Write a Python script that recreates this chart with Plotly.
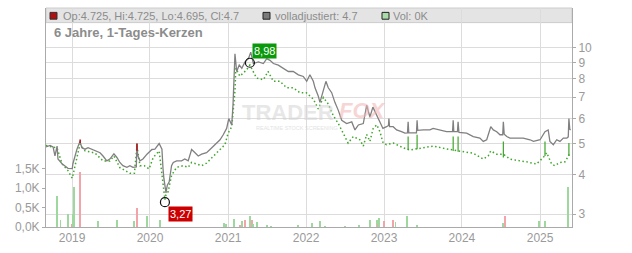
import math
import plotly.graph_objects as go

# ---------------- data ----------------
adj_dates = ["2018-09-01","2018-09-20","2018-10-04","2018-10-13","2018-10-23","2018-10-27","2018-11-15","2018-11-29",
 "2018-12-13","2019-01-02","2019-01-05","2019-01-24","2019-02-07","2019-02-16","2019-03-03","2019-03-17","2019-04-04",
 "2019-04-18","2019-05-12","2019-05-26","2019-06-13","2019-06-27","2019-07-16","2019-07-30","2019-08-13","2019-08-27",
 "2019-09-15","2019-09-29","2019-10-13","2019-10-29","2019-11-01","2019-11-04","2019-11-15","2019-11-29","2019-12-18",
 "2020-01-10","2020-01-24","2020-02-13","2020-02-26","2020-03-02","2020-03-06","2020-03-16","2020-03-22","2020-03-31",
 "2020-04-11","2020-04-19","2020-05-05","2020-05-28","2020-06-12","2020-06-28","2020-07-14","2020-07-30","2020-08-14",
 "2020-08-30","2020-09-22","2020-10-08","2020-10-23","2020-11-08","2020-11-24","2020-12-09","2020-12-25","2021-01-04",
 "2021-01-18","2021-01-24","2021-02-02","2021-02-10","2021-02-22","2021-03-06","2021-03-21","2021-04-06","2021-04-17",
 "2021-04-29","2021-05-23","2021-06-15","2021-07-01","2021-07-16","2021-08-01","2021-08-24","2021-09-17","2021-10-10",
 "2021-11-02","2021-11-26","2021-12-19","2022-01-04","2022-01-19","2022-02-04","2022-02-12","2022-02-27","2022-03-07",
 "2022-03-23","2022-04-04","2022-04-15","2022-05-01","2022-05-16","2022-06-01","2022-06-17","2022-07-10","2022-08-03",
 "2022-08-18","2022-09-03","2022-09-26","2022-10-12","2022-10-27","2022-11-10","2022-11-28","2022-12-13","2022-12-27",
 "2023-01-13","2023-01-22","2023-01-24","2023-01-27","2023-02-13","2023-03-01","2023-03-24","2023-04-09","2023-04-21",
 "2023-04-24","2023-04-27","2023-05-18","2023-06-02","2023-06-05","2023-06-08","2023-07-04","2023-08-04","2023-08-19",
 "2023-09-20","2023-10-21","2023-11-18","2023-11-21","2023-11-24","2023-12-11","2023-12-14","2023-12-18","2024-01-23",
 "2024-02-23","2024-03-25","2024-04-10","2024-04-26","2024-05-15","2024-05-27","2024-06-12","2024-06-27","2024-07-10",
 "2024-07-13","2024-07-17","2024-07-29","2024-08-13","2024-09-13","2024-10-14","2024-11-15","2024-12-01","2025-01-01",
 "2025-01-24","2025-02-08","2025-02-16","2025-03-04","2025-03-20","2025-04-04","2025-04-20","2025-05-06","2025-05-13",
 "2025-05-16","2025-05-20","2025-05-24"]
adj_price = [4.88,4.93,4.88,4.57,4.91,4.47,4.32,4.26,
 4.18,4.17,4.32,4.80,5.08,4.85,4.80,4.85,4.80,
 4.74,4.68,4.57,4.41,4.47,4.64,4.52,4.36,4.26,
 4.21,4.26,4.21,4.22,5.00,4.60,4.41,4.47,4.63,
 4.79,4.80,5.00,4.80,4.17,3.89,3.50,3.70,3.79,
 4.26,4.36,4.41,4.41,4.47,4.41,4.79,4.68,4.57,
 4.63,4.68,4.79,4.91,5.02,5.14,5.33,5.58,5.99,
 5.72,6.66,9.59,8.43,8.83,8.63,9.04,9.25,9.70,
 8.93,9.04,8.93,9.25,9.14,8.93,8.83,8.63,8.43,
 8.43,8.23,8.13,7.85,8.23,7.85,7.49,7.06,6.74,
 7.32,7.85,7.49,7.23,6.74,6.36,5.92,5.78,5.85,
 5.52,5.72,5.78,6.60,6.06,6.51,6.15,5.85,5.58,
 5.65,5.70,5.99,5.65,5.65,5.52,5.45,5.39,5.40,
 5.85,5.40,5.39,5.40,5.92,5.50,5.52,5.52,5.58,
 5.52,5.45,5.45,5.92,5.45,5.45,5.85,5.42,5.39,
 5.26,5.20,5.08,5.14,5.65,5.52,5.45,5.33,5.33,
 5.85,5.35,5.26,5.20,5.20,5.20,5.14,5.08,5.14,
 5.45,5.52,5.08,4.96,5.14,5.08,5.20,5.20,5.25,
 5.99,5.55,5.52]

candle_dates = ["2018-09-01","2018-10-04","2018-10-23","2018-11-15","2018-12-13","2019-01-02","2019-01-14","2019-02-07",
 "2019-03-03","2019-04-18","2019-05-26","2019-06-27","2019-07-16","2019-08-13","2019-09-15","2019-09-29","2019-10-20",
 "2019-11-01","2019-11-15","2019-12-05","2019-12-28","2020-01-16","2020-02-13","2020-03-03","2020-03-11","2020-03-16",
 "2020-03-26","2020-04-11","2020-05-05","2020-06-05","2020-06-28","2020-07-14","2020-08-07","2020-08-30","2020-09-22",
 "2020-10-23","2020-11-24","2020-12-17","2021-01-01","2021-01-18","2021-02-02","2021-02-06","2021-02-25","2021-03-28",
 "2021-04-13","2021-05-14","2021-06-15","2021-07-07","2021-08-01","2021-09-01","2021-10-02","2021-11-02","2021-12-03",
 "2022-01-02","2022-02-04","2022-02-27","2022-03-23","2022-04-15","2022-05-08","2022-06-01","2022-06-24","2022-07-17",
 "2022-08-10","2022-09-10","2022-09-26","2022-10-12","2022-10-27","2022-11-11","2022-11-28","2022-12-13","2022-12-28",
 "2023-01-13","2023-02-13","2023-04-01","2023-05-02","2023-06-02","2023-07-19","2023-08-19","2023-10-21","2023-12-22",
 "2024-02-23","2024-04-10","2024-05-03","2024-05-15","2024-06-12","2024-07-13","2024-08-13","2024-09-29","2024-10-30",
 "2024-12-15","2025-01-16","2025-02-01","2025-02-24","2025-03-11","2025-04-04","2025-04-28","2025-05-13","2025-05-24"]
candle_close = [4.93,4.87,4.84,4.32,4.11,3.89,4.26,4.98,
 4.74,4.67,4.41,4.41,4.57,4.20,4.08,4.03,4.03,
 4.91,4.26,4.26,4.16,4.52,4.74,3.79,3.33,3.45,
 3.53,3.97,4.21,4.26,4.21,4.36,4.31,4.26,4.34,
 4.57,4.79,4.96,5.39,5.65,7.33,8.63,8.15,8.52,
 8.83,8.04,7.94,8.43,7.85,7.85,7.49,7.49,7.23,
 7.23,6.90,6.43,6.98,6.66,6.13,5.78,5.39,5.02,
 5.26,5.14,4.91,5.34,5.08,5.57,5.73,5.45,5.02,
 4.96,5.02,4.85,4.77,4.81,4.85,4.91,4.81,4.74,
 4.66,4.47,4.57,4.74,4.63,4.63,4.47,4.41,4.38,
 4.31,4.52,4.68,4.31,4.26,4.36,4.38,4.58,4.70]

wick_dates = ["2023-04-24","2023-06-05","2023-11-21","2023-12-14","2024-07-13","2025-01-24","2025-05-16"]
wick_high = [5.26,5.33,5.26,5.26,5.08,5.08,5.02]
wick_low = [4.77,4.80,4.74,4.71,4.52,4.57,4.57]

red_dates = ["2019-02-08","2019-11-01"]
red_high = [5.15,5.00]
red_low = [5.02,4.75]

vol_dates = ["2018-10-24","2018-11-08","2018-12-12","2018-12-30","2019-01-04","2019-01-11","2019-02-08","2019-05-04",
 "2019-07-31","2019-10-19","2019-11-02","2019-12-19","2020-02-18","2020-12-11","2020-12-22","2021-01-30","2021-02-27",
 "2021-03-06","2021-03-23","2021-04-15","2021-04-24","2021-04-29","2021-05-15","2021-07-04","2021-07-21","2021-11-23",
 "2022-01-27","2022-03-09","2022-04-01","2022-07-04","2022-09-07","2022-10-29","2022-11-30","2022-12-05","2022-12-10",
 "2023-01-02","2023-02-13","2023-02-24","2023-04-20","2023-06-06","2024-07-13","2024-07-17","2024-07-22","2024-12-28",
 "2025-01-25","2025-05-13"]
vol_values = [790,190,333,83,333,1017,1425,167,
 192,142,500,292,192,92,67,200,42,
 142,192,292,192,67,117,42,25,50,
 92,142,17,17,42,192,192,67,242,
 167,192,117,292,42,92,42,292,142,
 142,1017]
vol_dir = ["up","up","up","down","up","up","down","up",
 "up","up","down","up","up","up","up","up","down",
 "up","down","up","down","up","up","up","up","up",
 "up","up","up","up","up","up","up","down","up",
 "down","down","up","up","up","up","up","down","up",
 "up","up"]

high_date, high_value = "2021-04-13", 8.98
low_date, low_value = "2020-03-11", 3.27

year_ticks = ["2019-01-01","2020-01-01","2021-01-01","2022-01-01","2023-01-01","2024-01-01","2025-01-01"]
year_labels = ["2019","2020","2021","2022","2023","2024","2025"]
price_ticks = [3,4,5,6,7,8,9,10]
price_labels = ["3","4","5","6","7","8","9","10"]
vol_ticks = [0,500,1000,1500]
vol_labels = ["0,0K","0,5K","1,0K","1,5K"]

header_ohlc = "Op:4.725, Hi:4.725, Lo:4.695, Cl:4.7"
header_adj = "volladjustiert: 4.7"
header_vol = "Vol: 0K"
title_text = "6 Jahre, 1-Tages-Kerzen"

# ---------------- style / layout ----------------
W, H = 632, 253
L, R, T, B = 46, 572, 8, 233
FONT = "Liberation Sans, Arial, sans-serif"
TXT = "#8c8c8c"
AXC = "#aaaaaa"
GRID = "#dcdcdc"

def px_x(px):
    return (px - L) / (R - L)

def px_y(py):
    return (B - py) / (B - T)

fig = go.Figure()

fig.add_trace(go.Bar(
    x=vol_dates, y=vol_values, yaxis="y",
    marker=dict(color=["#9fd89f" if d == "up" else "#f2a4aa" for d in vol_dir], line=dict(width=0)),
    width=4.2 * 86400000, hoverinfo="skip", showlegend=False))

fig.add_trace(go.Scatter(
    x=candle_dates, y=candle_close, yaxis="y2", mode="lines",
    line=dict(color="#3ea52a", width=1.5, dash="1.5px,2.5px"), hoverinfo="skip", showlegend=False))

wx, wy = [], []
for d, hi, lo in zip(wick_dates, wick_high, wick_low):
    wx += [d, d, None]
    wy += [lo, hi, None]
fig.add_trace(go.Scatter(x=wx, y=wy, yaxis="y2", mode="lines",
    line=dict(color="#3ea52a", width=1.2), hoverinfo="skip", showlegend=False))

fig.add_trace(go.Scatter(
    x=adj_dates, y=adj_price, yaxis="y2", mode="lines",
    line=dict(color="#808080", width=1.3), hoverinfo="skip", showlegend=False))

rx, ry = [], []
for d, hi, lo in zip(red_dates, red_high, red_low):
    rx += [d, d, None]
    ry += [lo, hi, None]
fig.add_trace(go.Scatter(x=rx, y=ry, yaxis="y2", mode="lines",
    line=dict(color="#b01818", width=1.6), hoverinfo="skip", showlegend=False))

fig.add_trace(go.Scatter(
    x=[high_date, low_date], y=[high_value, low_value], yaxis="y2", mode="markers",
    marker=dict(symbol="circle-open", size=9, color="#111111", line=dict(width=1.2)),
    hoverinfo="skip", showlegend=False))

shapes = [
    dict(type="rect", xref="paper", yref="paper", x0=0, x1=1, y0=px_y(23), y1=1,
         fillcolor="#e4e4e4", line=dict(color="#cccccc", width=1), layer="below"),
    dict(type="rect", xref="paper", yref="paper", x0=px_x(50), x1=px_x(57), y0=px_y(19.5), y1=px_y(12.5),
         fillcolor="#b01010", line=dict(color="#333333", width=1)),
    dict(type="rect", xref="paper", yref="paper", x0=px_x(263), x1=px_x(270), y0=px_y(19.5), y1=px_y(12.5),
         fillcolor="#7a7a7a", line=dict(color="#222222", width=1)),
    dict(type="rect", xref="paper", yref="paper", x0=px_x(382), x1=px_x(389), y0=px_y(19.5), y1=px_y(12.5),
         fillcolor="#aadcaa", line=dict(color="#222222", width=1)),
]

ann = [
    dict(text=header_ohlc, x=px_x(61), y=px_y(16), xanchor="left", yanchor="middle"),
    dict(text=header_adj, x=px_x(273), y=px_y(16), xanchor="left", yanchor="middle"),
    dict(text=header_vol, x=px_x(391), y=px_y(16), xanchor="left", yanchor="middle"),
]
for a in ann:
    a.update(xref="paper", yref="paper", showarrow=False, font=dict(family=FONT, size=11, color=TXT))
ann.append(dict(text="<b>" + title_text + "</b>", xref="paper", yref="paper", x=px_x(52), y=px_y(33.5),
                xanchor="left", yanchor="middle", showarrow=False,
                font=dict(family=FONT, size=13, color=TXT)))
# watermark
ann += [
    dict(text="<b>TRADER</b>", xref="paper", yref="paper", x=px_x(336), y=px_y(115), xanchor="right",
         yanchor="middle", showarrow=False, opacity=0.55, font=dict(family=FONT, size=22, color="#d4d4d4")),
    dict(text="<b><i>FOX</i></b>", xref="paper", yref="paper", x=px_x(337), y=px_y(113), xanchor="left",
         yanchor="middle", showarrow=False, opacity=0.55, font=dict(family=FONT, size=22, color="#f2b4b4")),
    dict(text="REALTIME STOCK SCREENING", xref="paper", yref="paper", x=px_x(297), y=px_y(131),
         xanchor="center", yanchor="middle", showarrow=False, opacity=0.6,
         font=dict(family=FONT, size=5.5, color="#d0d0d0")),
]
# high / low labels
ann += [
    dict(text=f"{high_value:.2f}".replace(".", ","), x=high_date, y=math.log10(high_value), xref="x", yref="y2",
         xanchor="left", yanchor="bottom", xshift=2, yshift=4, showarrow=False, bgcolor="#0a990a",
         borderpad=1, font=dict(family=FONT, size=11, color="white")),
    dict(text=f"{low_value:.2f}".replace(".", ","), x=low_date, y=math.log10(low_value), xref="x", yref="y2",
         xanchor="left", yanchor="top", xshift=3, yshift=-4, showarrow=False, bgcolor="#cc0000",
         borderpad=1, font=dict(family=FONT, size=11, color="white")),
]

fig.update_layout(
    width=W, height=H,
    margin=dict(l=L, r=W - R, t=T, b=H - B, pad=0),
    paper_bgcolor="white", plot_bgcolor="white",
    showlegend=False, bargap=0,
    font=dict(family=FONT, size=12, color=TXT),
    xaxis=dict(type="date", range=["2018-09-01", "2025-05-30 12:00"],
               tickvals=year_ticks, ticktext=year_labels, showgrid=True, gridcolor=GRID, gridwidth=1,
               showline=True, linecolor=AXC, linewidth=1, ticks="", zeroline=False,
               tickfont=dict(family=FONT, size=12, color="#9a9a9a")),
    yaxis=dict(range=[0, 5625], tickvals=vol_ticks, ticktext=vol_labels, side="left",
               showgrid=False, zeroline=False, showline=True, linecolor=AXC, linewidth=1,
               ticks="outside", ticklen=3, tickcolor=AXC,
               tickfont=dict(family=FONT, size=12, color="#9a9a9a")),
    yaxis2=dict(type="log", range=[0.4364, 1.1256], overlaying="y", side="right",
                tickvals=price_ticks, ticktext=price_labels, showgrid=True, gridcolor=GRID, gridwidth=1,
                zeroline=False, showline=True, linecolor=AXC, linewidth=1,
                ticks="outside", ticklen=3, tickcolor=AXC,
                tickfont=dict(family=FONT, size=12, color="#9a9a9a")),
    shapes=shapes, annotations=ann,
)

fig.write_html("out.html", config={"displayModeBar": False})
